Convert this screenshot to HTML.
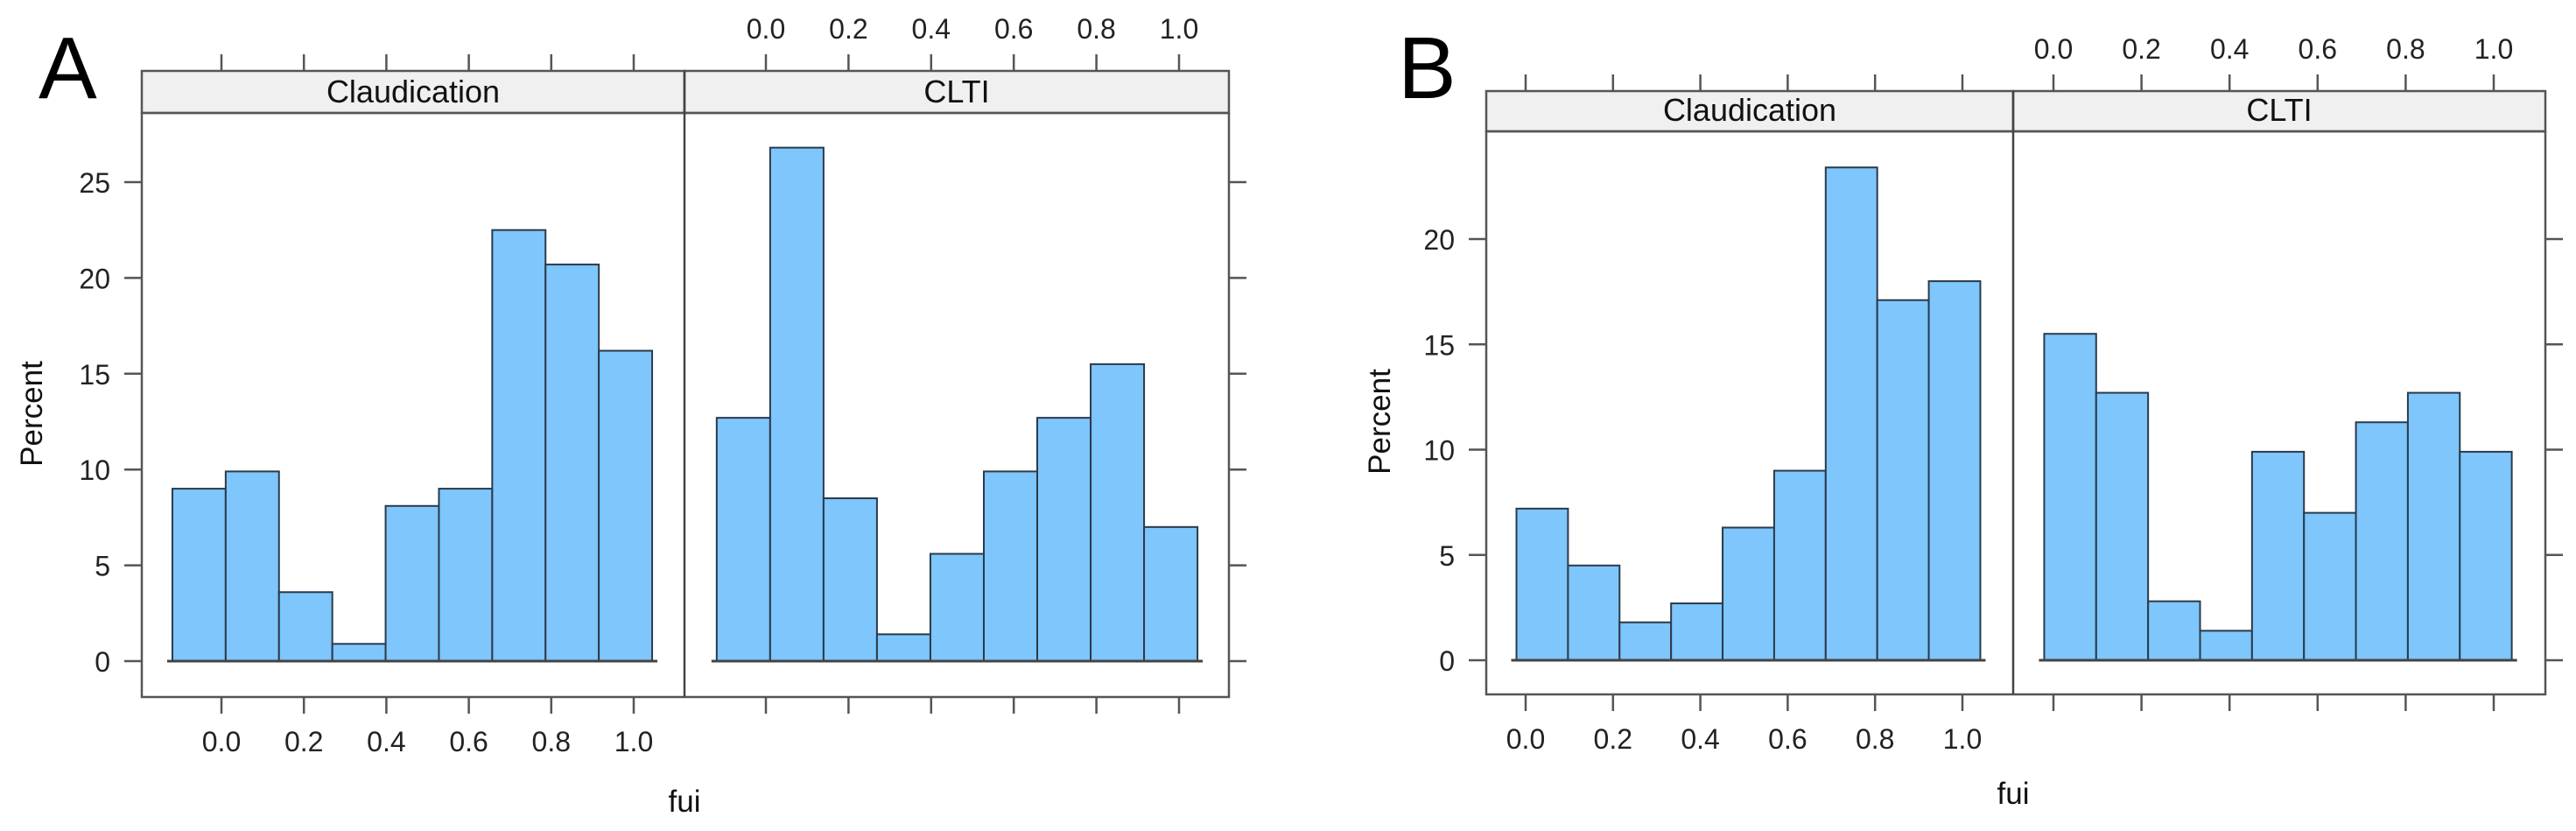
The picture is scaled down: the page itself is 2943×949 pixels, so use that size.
<!DOCTYPE html>
<html><head><meta charset="utf-8"><style>
html,body{margin:0;padding:0;background:#fff;}
svg{display:block;font-family:"Liberation Sans",sans-serif;}
</style></head><body>
<svg id="chart" width="2943" height="949" viewBox="0 0 2943 949" xmlns="http://www.w3.org/2000/svg"></svg>
<script>
// Panel A data
const aClaudValues = [9.0, 9.9, 3.6, 0.9, 8.1, 9.0, 22.5, 20.7, 16.2];
const aCltiValues = [12.7, 26.8, 8.5, 1.4, 5.6, 9.9, 12.7, 15.5, 7.0];
const aBinStart = -0.119;
const aBinWidth = 0.1293;
const aYTicks = [0, 5, 10, 15, 20, 25];
// Panel B data
const bClaudValues = [7.2, 4.5, 1.8, 2.7, 6.3, 9.0, 23.4, 17.1, 18.0];
const bCltiValues = [15.5, 12.7, 2.8, 1.4, 9.9, 7.0, 11.3, 12.7, 9.9];
const bBinStart = -0.021;
const bBinWidth = 0.118;
const bYTicks = [0, 5, 10, 15, 20];
const xTicks = [0.0, 0.2, 0.4, 0.6, 0.8, 1.0];
const xTickLabels = ["0.0", "0.2", "0.4", "0.6", "0.8", "1.0"];
const panelNames = ["Claudication", "CLTI"];

const NS = "http://www.w3.org/2000/svg";
const svg = document.getElementById("chart");
function mk(tag, attrs, parent) {
  const e = document.createElementNS(NS, tag);
  for (const k in attrs) e.setAttribute(k, attrs[k]);
  (parent || svg).appendChild(e);
  return e;
}

function drawFigure(cfg) {
  const g = mk("g", {});
  
  
  const L = cfg.left, M = cfg.mid, R = cfg.right;
  const yScale = v => cfg.y0 - v * cfg.yUnit;
  const lt = mk("text", {x: cfg.letterX, y: cfg.letterY, "font-size": 100, fill: "#000"}, g);
  lt.textContent = cfg.letter;
  
  
  const panels = [[L, M, cfg.claud, cfg.tick0L, cfg.xUnitL], [M, R, cfg.clti, cfg.tick0R, cfg.xUnitR]];
  panels.forEach((p, pi) => {
    const [pl, pr, vals, t0, xu] = p;
    const xs = v => t0 + v * xu;
    const st = mk("rect", {x: pl, y: cfg.stripTop, width: pr - pl, height: cfg.stripBot - cfg.stripTop, fill: "#f0f0f0", stroke: "#555", "stroke-width": 2.5}, g);
    
    
    const stt = mk("text", {x: (pl + pr) / 2, y: cfg.stripBot - 12, "font-size": 36, "text-anchor": "middle", fill: "#111"}, g);
    stt.textContent = panelNames[pi];
    
    
    vals.forEach((v, i) => {
      const x0 = xs(cfg.binStart + i * cfg.binWidth);
      const x1 = xs(cfg.binStart + (i + 1) * cfg.binWidth);
      const b = mk("rect", {x: x0, y: yScale(v), width: x1 - x0, height: cfg.y0 - yScale(v), fill: "#7ec6fc", stroke: "#2b3a4a", "stroke-width": 2}, g);
      
      
    });
    const bx0 = xs(cfg.binStart) - 6, bx1 = xs(cfg.binStart + vals.length * cfg.binWidth) + 6;
    const base = mk("line", {x1: bx0, x2: bx1, y1: cfg.y0, y2: cfg.y0, stroke: "#444", "stroke-width": 3}, g);
    
    
    xTicks.forEach((t, i) => {
      const x = xs(t);
      const tb = mk("line", {x1: x, x2: x, y1: cfg.frameBot, y2: cfg.frameBot + 19, stroke: "#555", "stroke-width": 2.5}, g);
      
      
      const tt = mk("line", {x1: x, x2: x, y1: cfg.stripTop, y2: cfg.stripTop - 19, stroke: "#555", "stroke-width": 2.5}, g);
      
      
      const lab = mk("text", {x: x, y: pi === 0 ? cfg.frameBot + 62 : cfg.stripTop - 37, "font-size": 32, "text-anchor": "middle", fill: "#222"}, g);
      lab.textContent = xTickLabels[i];
      
      
    });
  });
  const fr = mk("rect", {x: L, y: cfg.stripBot, width: R - L, height: cfg.frameBot - cfg.stripBot, fill: "none", stroke: "#555", "stroke-width": 2.5}, g);
  
  
  const dv = mk("line", {x1: M, x2: M, y1: cfg.stripTop, y2: cfg.frameBot, stroke: "#444", "stroke-width": 2.5}, g);
  
  
  cfg.yTicks.forEach(t => {
    const y = yScale(t);
    const tl = mk("line", {x1: L - 20, x2: L, y1: y, y2: y, stroke: "#555", "stroke-width": 2.5}, g);
    
    
    const tr = mk("line", {x1: R, x2: R + 20, y1: y, y2: y, stroke: "#555", "stroke-width": 2.5}, g);
    
    
    const lab = mk("text", {x: L - 36, y: y + 12, "font-size": 32, "text-anchor": "end", fill: "#222"}, g);
    lab.textContent = String(t);
    
    
  });
  const yt = mk("text", {x: 0, y: 0, "font-size": 35, "text-anchor": "middle", fill: "#111", transform: `translate(${cfg.yTitleX},${(cfg.stripBot + cfg.frameBot) / 2 + 10}) rotate(-90)`}, g);
  yt.textContent = "Percent";
  
  
  const xt = mk("text", {x: M, y: cfg.xTitleY, "font-size": 35, "text-anchor": "middle", fill: "#111"}, g);
  xt.textContent = "fui";
  
  
}

drawFigure({name: "figure-a", letter: "A", letterX: 44, letterY: 112,
  left: 162, mid: 782, right: 1404, stripTop: 81, stripBot: 129, frameBot: 796,
  y0: 755, yUnit: 21.88, xUnitL: 471, xUnitR: 472, tick0L: 253, tick0R: 875,
  claud: aClaudValues, clti: aCltiValues, binStart: aBinStart, binWidth: aBinWidth,
  yTicks: aYTicks, yTitleX: 48, xTitleY: 927});
drawFigure({name: "figure-b", letter: "B", letterX: 1597, letterY: 112,
  left: 1698, mid: 2300, right: 2908, stripTop: 104, stripBot: 150, frameBot: 793,
  y0: 754, yUnit: 24.05, xUnitL: 499, xUnitR: 503, tick0L: 1743, tick0R: 2346,
  claud: bClaudValues, clti: bCltiValues, binStart: bBinStart, binWidth: bBinWidth,
  yTicks: bYTicks, yTitleX: 1588, xTitleY: 918});
</script>
</body></html>
